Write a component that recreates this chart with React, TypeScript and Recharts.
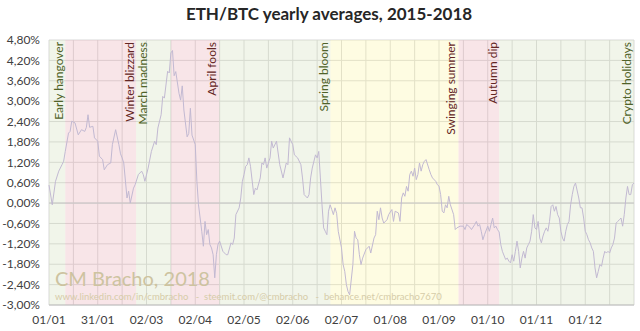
import {
  CartesianGrid,
  Line,
  LineChart,
  ReferenceArea,
  ReferenceLine,
  XAxis,
  YAxis,
} from "recharts";

// day of year (0 = 01/01) and ETH/BTC yearly average deviation, in %
const days = [
  0, 2, 4, 6, 8, 9, 10, 12, 13, 14, 16, 18, 20, 22, 23, 24, 25, 27, 28, 30,
  31, 33, 34, 36, 38, 39, 41, 43, 44, 45, 46, 48, 49, 50, 52, 53, 55, 57, 58, 59,
  61, 63, 65, 66, 67, 69, 70, 71, 73, 74, 75, 76, 77, 78, 80, 81, 82, 83, 85, 86,
  87, 88, 90, 91, 92, 94, 95, 96, 97, 98, 99, 100, 101, 102, 103, 104, 105, 107, 109, 110,
  112, 113, 114, 115, 117, 118, 119, 120, 121, 122, 123, 124, 126, 127, 128, 130, 131, 132, 133, 134,
  136, 137, 138, 140, 142, 144, 146, 147, 148, 150, 151, 153, 155, 156, 157, 159, 160, 161, 162, 164,
  165, 166, 167, 168, 169, 170, 171, 172, 173, 174, 175, 176, 177, 178, 180, 181, 182, 183, 184, 185,
  187, 188, 189, 190, 191, 192, 193, 195, 196, 197, 198, 200, 201, 202, 203, 204, 205, 206, 208, 209,
  211, 212, 213, 215, 216, 217, 218, 219, 220, 221, 222, 223, 224, 225, 226, 227, 228, 229, 230, 231,
  232, 234, 235, 236, 238, 239, 240, 241, 242, 243, 244, 245, 246, 247, 249, 250, 251, 253, 255, 256,
  257, 259, 260, 262, 263, 264, 265, 266, 267, 268, 270, 271, 272, 273, 274, 275, 276, 277, 278, 279,
  281, 282, 283, 284, 285, 286, 287, 288, 289, 290, 291, 292, 293, 294, 295, 296, 297, 298, 299, 300,
  301, 302, 303, 304, 305, 306, 307, 308, 309, 310, 311, 312, 313, 314, 315, 316, 317, 318, 319, 320,
  321, 322, 323, 324, 326, 327, 328, 329, 330, 331, 332, 333, 334, 335, 336, 337, 338, 339, 340, 341,
  342, 343, 344, 345, 346, 347, 348, 349, 350, 351, 352, 353, 354, 355, 356, 357, 358, 359, 360,
];

const ethBtc = [
  0.53, -0.05, 0.64, 0.94, 1.13, 1.23, 1.52, 2.06, 2.11, 2.41, 2.36, 2.01, 2.16, 2.11, 2.23, 2.6, 2.23, 2.26, 1.92, 1.82,
  1.38, 1.28, 0.98, 1.13, 1.18, 1.72, 2.16, 1.72, 1.45, 1.33, 1.18, 0.15, 0.35, 0.0, 0.44, 0.54, 0.84, 0.94, 0.84, 0.64,
  1.03, 1.52, 1.82, 1.72, 2.21, 2.6, 3.14, 3.09, 3.88, 3.83, 4.42, 4.49, 3.75, 3.87, 3.23, 3.03, 3.45, 2.74, 1.95, 2.05,
  2.79, 2.0, 1.72, 0.64, -0.05, -0.83, -1.27, -0.54, -0.93, -0.78, -1.22, -1.32, -1.52, -2.2, -1.52, -1.22, -1.12, -1.42, -1.52, -1.52,
  -1.17, -1.22, -1.03, -0.34, -0.14, 0.15, 0.64, 0.84, 1.08, 1.13, 1.33, 1.08, 0.25, 0.44, 0.39, 0.74, 1.18, 1.13, 1.33, 1.03,
  1.33, 1.82, 1.62, 1.82, 1.13, 0.74, 1.18, 1.13, 1.92, 1.72, 1.42, 1.33, 1.13, 0.74, 0.25, 0.15, 0.25, 0.74, 1.03, 1.42,
  1.33, 1.52, 0.74, -0.05, -0.73, -0.83, -0.93, -0.24, -0.05, -0.19, -0.34, -0.14, -0.3, -0.83, -1.32, -1.81, -2.01, -2.4, -2.6, -2.7,
  -1.81, -0.83, -1.03, -1.08, -1.52, -1.81, -1.62, -1.37, -1.32, -1.27, -1.47, -1.03, -0.93, -0.24, -0.49, -0.14, -0.44, -0.59, -0.49, -0.34,
  -0.19, -0.54, -0.24, -0.29, -0.54, 0.15, 0.3, 0.2, 0.49, 0.35, 0.84, 0.94, 0.79, 1.03, 0.69, 0.84, 1.18, 0.94, 1.13, 1.23,
  1.28, 0.98, 0.84, 0.74, 0.64, 0.54, 0.5, 0.25, -0.24, -0.29, -0.05, -0.14, 0.2, -0.05, -0.34, -0.78, -0.73, -0.68, -0.68, -0.78,
  -0.63, -0.71, -0.78, -0.63, -0.54, -0.68, -0.63, -0.83, -1.08, -0.93, -0.68, -0.83, -0.63, -0.44, -0.73, -0.68, -0.78, -0.85, -1.22, -1.42,
  -1.66, -1.62, -1.71, -1.76, -1.52, -1.71, -1.42, -1.12, -1.42, -1.91, -1.62, -1.42, -1.62, -1.32, -1.22, -1.12, -0.83, -0.34, -0.73, -0.78,
  -0.54, -1.03, -1.17, -0.97, -0.83, -0.73, -0.83, -0.54, -0.1, -0.05, -0.24, -0.1, -0.34, -0.44, -0.83, -1.03, -1.12, -0.83, -0.63, -0.54,
  -0.05, 0.25, 0.49, 0.59, 0.15, -0.14, -0.14, -0.44, -0.83, -0.93, -1.08, -1.17, -1.32, -1.42, -1.91, -2.2, -2.01, -1.81, -1.86, -1.62,
  -1.42, -1.47, -1.42, -1.47, -1.32, -1.22, -1.03, -0.59, -0.54, -0.49, -0.44, -0.68, -0.34, 0.15, 0.49, 0.25, 0.25, 0.54, 0.59,
];

const dateLabels = [
  "01/01", "31/01", "02/03", "02/04", "02/05", "02/06",
  "02/07", "01/08", "01/09", "01/10", "01/11", "01/12",
];
const xTicks = Array.from({ length: 25 }, (_, i) => i * 15);
const yTicks = [-3, -2.4, -1.8, -1.2, -0.6, 0, 0.6, 1.2, 1.8, 2.4, 3, 3.6, 4.2, 4.8];

// shaded periods of the year
const periodStarts = [0, 10, 53.6, 75.1, 104.8, 173.2, 252, 277];
const periodEnds = [10, 53.6, 75.1, 104.8, 173.2, 252, 277, 360];
const periodMoods = ["up", "down", "up", "down", "up", "summer", "down", "up"];

const eventNames = [
  "Early hangover", "Winter blizzard", "March madness", "April fools",
  "Spring bloom", "Swinging summer", "Autumn dip", "Crypto holidays",
];
const eventDays = [5.7, 49.7, 57.8, 100.1, 169.2, 246.8, 273.2, 355.1];
const eventMoods = ["up", "down", "up", "down", "up", "down", "down", "up"];

const bandFill: Record<string, string> = {
  up: "rgb(208,222,185)",
  down: "rgb(232,168,178)",
  summer: "rgb(252,245,158)",
};
const labelColor: Record<string, string> = {
  up: "#4f6228",
  down: "#632523",
};

const data = days.map((d, i) => ({ day: d, ratio: ethBtc[i] }));

const fmtPct = (v: number) => `${v.toFixed(2).replace(".", ",")}%`;
const fmtDate = (v: number) => (v % 30 === 0 ? dateLabels[v / 30] ?? "" : "");

function EventLabel(props: any, text: string, color: string) {
  const vb = props.viewBox ?? {};
  const x = vb.x ?? 0;
  const y = (vb.y ?? 0) + 2;
  return (
    <text
      x={x}
      y={y}
      transform={`rotate(-90, ${x}, ${y})`}
      textAnchor="end"
      dominantBaseline="central"
      fill={color}
      fontSize={12}
    >
      {text}
    </text>
  );
}

export default function App() {
  return (
    <div
      style={{
        position: "fixed",
        left: 0,
        top: 0,
        width: 640,
        height: 331,
        background: "#fff",
        fontFamily: "Lato, 'Open Sans', sans-serif",
      }}
    >
      <div
        style={{
          position: "absolute",
          left: 0,
          top: 3,
          width: 658,
          textAlign: "center",
          fontSize: 17,
          fontWeight: 700,
          color: "#262626",
        }}
      >
        ETH/BTC yearly averages, 2015-2018
      </div>
      <LineChart
        width={640}
        height={331}
        data={data}
        margin={{ top: 40, right: 6, bottom: 6, left: 8 }}
      >
        <CartesianGrid stroke="#d9d9d9" />
        {periodStarts.map((s, i) => (
          <ReferenceArea
            key={"p" + i}
            x1={s}
            x2={periodEnds[i]}
            fill={bandFill[periodMoods[i]]}
            fillOpacity={0.3}
            stroke="none"
          />
        ))}
        <ReferenceLine y={0} stroke="#c6c6c6" />
        {eventDays.map((d, i) => (
          <ReferenceLine
            key={"e" + i}
            x={d}
            stroke="none"
            label={(p: any) => EventLabel(p, eventNames[i], labelColor[eventMoods[i]])}
          />
        ))}
        <XAxis
          dataKey="day"
          type="number"
          domain={[0, 360]}
          ticks={xTicks}
          tickFormatter={fmtDate}
          interval={0}
          height={20}
          tickSize={0}
          tickMargin={10}
          axisLine={{ stroke: "#bfbfbf" }}
          tick={{ fill: "#404040", fontSize: 12 }}
        />
        <YAxis
          type="number"
          domain={[-3, 4.8]}
          ticks={yTicks}
          tickFormatter={fmtPct}
          interval={0}
          width={41}
          tickSize={0}
          tickMargin={9}
          axisLine={false}
          tick={{ fill: "#404040", fontSize: 12 }}
        />
        <Line
          type="linear"
          dataKey="ratio"
          stroke="#c2b9d2"
          strokeWidth={1}
          dot={false}
          isAnimationActive={false}
        />
      </LineChart>
      <div
        style={{
          position: "absolute",
          left: 55,
          top: 266,
          fontSize: 20,
          color: "#cdc3a0",
          pointerEvents: "none",
        }}
      >
        CM Bracho, 2018
      </div>
      <div
        style={{
          position: "absolute",
          left: 55,
          top: 291,
          fontSize: 9.5,
          color: "#d6cca8",
          whiteSpace: "pre",
          pointerEvents: "none",
        }}
      >
        {"www.linkedin.com/in/cmbracho   -  steemit.com/@cmbracho   -  behance.net/cmbracho7670"}
      </div>
    </div>
  );
}
